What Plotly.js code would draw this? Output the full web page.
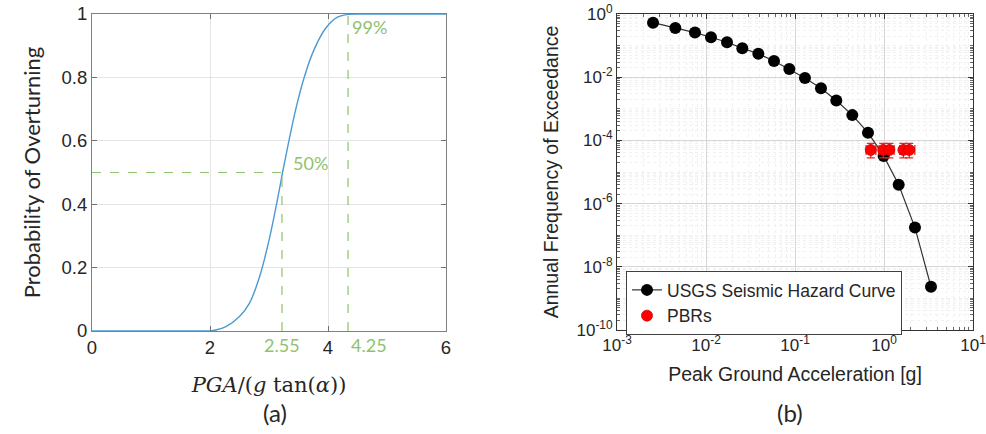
<!DOCTYPE html>
<html>
<head>
<meta charset="utf-8">
<script src="https://cdn.plot.ly/plotly-3.0.1.min.js"></script>
<style>html,body{margin:0;padding:0;background:#fff;}#chart{width:986px;height:434px;}</style>
</head>
<body>
<div id="chart"></div>
<script>
// ---- Panel (a): probability of overturning ----
const curveX = [0, 1.9, 2.0, 2.1, 2.27, 2.5, 2.67, 2.84, 3.0, 3.13, 3.23, 3.34, 3.45, 3.6, 3.76, 3.96, 4.16, 4.35, 4.55, 6];
const curveY = [0, 0, 0, 0.003, 0.014, 0.046, 0.088, 0.171, 0.286, 0.402, 0.5, 0.602, 0.697, 0.802, 0.886, 0.955, 0.99, 0.999, 1, 1];
const markX = [3.22, 4.34];        // positions of the dashed markers
const markY = [0.5, 0.99];          // probability level of each marker
const markTop = [0.5, 1];           // top of each vertical dashed line
const markLabels = ['2.55', '4.25'];
const pctLabels = ['50%', '99%'];
const aTicks = [0, 2, 4, 6];
const aYTicks = [0, 0.2, 0.4, 0.6, 0.8, 1];
const aYTickText = ['0', '0.2', '0.4', '0.6', '0.8', '1'];

// ---- Panel (b): seismic hazard curve ----
const hazardPGA = [0.00254, 0.00452, 0.00752, 0.01138, 0.01722, 0.02559, 0.03873, 0.05808, 0.0863, 0.1294, 0.1959, 0.2911, 0.4406, 0.6607, 0.9908, 1.462, 2.228, 3.373];
const hazardFreq = [0.533, 0.362, 0.258, 0.184, 0.128, 0.083, 0.0551, 0.0324, 0.0181, 0.00944, 0.00447, 0.00182, 6.31e-4, 1.75e-4, 3.23e-5, 3.94e-6, 1.74e-7, 2.34e-9];
const pbrPGA = [0.71, 0.98, 1.15, 1.65, 1.92];
const pbrFreq = [5e-5, 5e-5, 5e-5, 5e-5, 5e-5];
const pbrErrXMinus = [0.08, 0.1, 0.12, 0.15, 0.2];
const pbrErrXPlus = [0.1, 0.12, 0.15, 0.25, 0.3];
const pbrErrYPlus = [3e-5, 3e-5, 3e-5, 3e-5, 3e-5];
const pbrErrYMinus = [2.2e-5, 2.2e-5, 2.2e-5, 2.2e-5, 2.2e-5];
const seriesNames = ['USGS Seismic Hazard Curve', 'PBRs'];
const bXTicks = [1e-3, 1e-2, 1e-1, 1e0, 1e1];
const bXTickText = ['10<sup>-3</sup>', '10<sup>-2</sup>', '10<sup>-1</sup>', '10<sup>0</sup>', '10<sup>1</sup>'];
const bYTicks = [1e-10, 1e-8, 1e-6, 1e-4, 1e-2, 1e0];
const bYTickText = ['10<sup>-10</sup>', '10<sup>-8</sup>', '10<sup>-6</sup>', '10<sup>-4</sup>', '10<sup>-2</sup>', '10<sup>0</sup>'];

const green = '#8fc26c';
const txt = '#262626';
const sans = 'Liberation Sans, Arial, sans-serif';
const cal = 'Lato, Noto Sans, sans-serif';

const traces = [
  {x: curveX, y: curveY, mode: 'lines', line: {color: '#4a9bd3', width: 1.4, shape: 'spline', smoothing: 0.8}, xaxis: 'x', yaxis: 'y', showlegend: false, hoverinfo: 'skip'},
  {x: [0, markX[0]], y: [markY[0], markY[0]], mode: 'lines', line: {color: green, width: 1.2, dash: 'dash'}, xaxis: 'x', yaxis: 'y', showlegend: false},
  {x: [markX[0], markX[0]], y: [0, markTop[0]], mode: 'lines', line: {color: green, width: 1.2, dash: 'dash'}, xaxis: 'x', yaxis: 'y', showlegend: false},
  {x: [markX[1], markX[1]], y: [0, markTop[1]], mode: 'lines', line: {color: green, width: 1.2, dash: 'dash'}, xaxis: 'x', yaxis: 'y', showlegend: false},
  {x: hazardPGA, y: hazardFreq, name: seriesNames[0], mode: 'lines+markers', xaxis: 'x2', yaxis: 'y2',
   line: {color: '#333333', width: 1.2}, marker: {color: '#000000', size: 12, line: {color: '#000', width: 0}}},
  {x: pbrPGA, y: pbrFreq, name: seriesNames[1], mode: 'markers', xaxis: 'x2', yaxis: 'y2',
   marker: {color: '#ff0000', size: 11, line: {color: '#d00000', width: 0.8}},
   error_x: {type: 'data', symmetric: false, array: pbrErrXPlus, arrayminus: pbrErrXMinus, color: '#e02828', thickness: 1.3, width: 5},
   error_y: {type: 'data', symmetric: false, array: pbrErrYPlus, arrayminus: pbrErrYMinus, color: '#e02828', thickness: 1.3, width: 4}}
];

const annotations = [
  {xref: 'x', yref: 'paper', x: markX[0], y: 1 - 345/434, text: markLabels[0], showarrow: false, xanchor: 'center', yanchor: 'middle', font: {family: cal, size: 18, color: green}},
  {xref: 'x', yref: 'paper', x: markX[1], y: 1 - 345/434, text: markLabels[1], showarrow: false, xanchor: 'left', xshift: 1, yanchor: 'middle', font: {family: cal, size: 18, color: green}},
  {xref: 'x', yref: 'y', x: markX[0], y: markY[0], text: pctLabels[0], showarrow: false, xanchor: 'left', xshift: 9, yshift: 10, yanchor: 'middle', font: {family: cal, size: 18, color: green}},
  {xref: 'x', yref: 'y', x: markX[1], y: markY[1], text: pctLabels[1], showarrow: false, xanchor: 'left', xshift: 2, yshift: -10, yanchor: 'middle', font: {family: cal, size: 18, color: green}},
  {xref: 'paper', yref: 'paper', x: 275/986, y: 1 - 412/434, text: '(a)', showarrow: false, xanchor: 'center', yanchor: 'middle', font: {family: cal, size: 24, color: txt}},
  {xref: 'paper', yref: 'paper', x: 790/986, y: 1 - 412/434, text: '(b)', showarrow: false, xanchor: 'center', yanchor: 'middle', font: {family: cal, size: 24, color: txt}}
];

const layout = {
  width: 986, height: 434,
  margin: {l: 0, r: 0, t: 0, b: 0},
  paper_bgcolor: '#fff', plot_bgcolor: '#fff',
  showlegend: true,
  legend: {x: 626/986, y: 1 - 271/434, xanchor: 'left', yanchor: 'top', bgcolor: '#fff', bordercolor: '#404040', borderwidth: 1,
           font: {family: sans, size: 17.5, color: txt}, tracegroupgap: 0},
  annotations: annotations,
  xaxis: {domain: [92/986, 446/986], range: [0, 6], tickvals: aTicks, ticks: 'inside', ticklen: 5, tickcolor: '#707070',
          showline: true, linecolor: '#808080', linewidth: 1, mirror: 'ticks', showgrid: true, gridcolor: '#e4e4e4', zeroline: false,
          tickfont: {family: sans, size: 18.5, color: txt}, automargin: false,
          title: {text: '<i>PGA</i>/(<i>g</i> tan(<i>α</i>))', font: {family: 'DejaVu Serif, serif', size: 21, color: txt}, standoff: 20}},
  yaxis: {domain: [1 - 331/434, 1 - 14/434], range: [0, 1], tickvals: aYTicks, ticktext: aYTickText, ticks: 'inside', ticklen: 5, tickcolor: '#707070',
          showline: true, linecolor: '#808080', linewidth: 1, mirror: 'ticks', showgrid: true, gridcolor: '#e4e4e4', zeroline: false,
          tickfont: {family: sans, size: 18.5, color: txt}, automargin: false,
          title: {text: 'Probability of Overturning', font: {family: cal, size: 22, color: txt}, standoff: 14}},
  xaxis2: {domain: [617/986, 973/986], type: 'log', range: [-3, 1], tickvals: bXTicks, ticktext: bXTickText, ticks: 'inside', ticklen: 5, tickcolor: '#333',
           showline: true, linecolor: '#333', linewidth: 1, mirror: 'ticks', showgrid: true, gridcolor: '#d6d6d6', zeroline: false,
           ticklabeloverflow: 'allow',
           minor: {dtick: 'D1', showgrid: true, gridcolor: '#f1f1f1', griddash: 'dot', gridwidth: 1, ticks: 'inside', ticklen: 3, tickcolor: '#666'},
           tickfont: {family: sans, size: 17, color: txt}, automargin: false, anchor: 'y2',
           title: {text: 'Peak Ground Acceleration [g]', font: {family: sans, size: 19.5, color: txt}, standoff: 12}},
  yaxis2: {domain: [1 - 330/434, 1 - 14/434], type: 'log', range: [-10, 0], tickvals: bYTicks, ticktext: bYTickText, ticks: 'inside', ticklen: 5, tickcolor: '#333',
           showline: true, linecolor: '#333', linewidth: 1, mirror: 'ticks', showgrid: true, gridcolor: '#d6d6d6', zeroline: false,
           minor: {dtick: 'D1', showgrid: true, gridcolor: '#f1f1f1', griddash: 'dot', gridwidth: 1, ticks: 'inside', ticklen: 3, tickcolor: '#666'},
           tickfont: {family: sans, size: 17, color: txt}, automargin: false, anchor: 'x2',
           title: {text: 'Annual Frequency of Exceedance', font: {family: sans, size: 19.5, color: txt}, standoff: 12}}
};

Plotly.newPlot('chart', traces, layout, {displayModeBar: false});
</script>
</body>
</html>
